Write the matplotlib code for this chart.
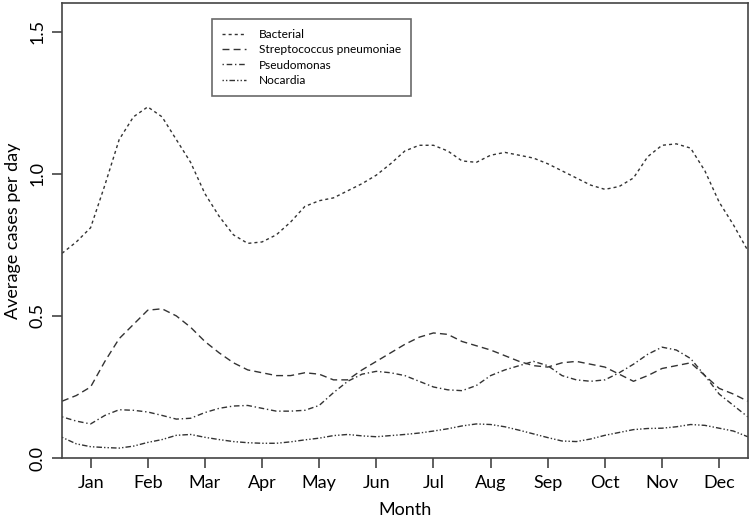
import numpy as np
import matplotlib
matplotlib.use("Agg")
import matplotlib.pyplot as plt

plt.rcParams['font.family'] = ['Lato', 'DejaVu Sans']

# month position (Jan = 1), quarter-month steps
months = np.arange(0.5, 12.51, 0.25)
month_labels = ["Jan", "Feb", "Mar", "Apr", "May", "Jun",
                "Jul", "Aug", "Sep", "Oct", "Nov", "Dec"]

bacterial = [0.72, 0.76, 0.81, 0.96, 1.12, 1.20, 1.235, 1.20, 1.12, 1.04,
             0.93, 0.85, 0.785, 0.755, 0.76, 0.785, 0.83, 0.885, 0.905, 0.915,
             0.94, 0.965, 0.995, 1.035, 1.08, 1.10, 1.10, 1.08, 1.045, 1.04,
             1.065, 1.075, 1.065, 1.055, 1.035, 1.01, 0.985, 0.96, 0.945, 0.955,
             0.985, 1.06, 1.10, 1.105, 1.09, 1.01, 0.90, 0.82, 0.73]

strep = [0.20, 0.22, 0.25, 0.34, 0.42, 0.47, 0.52, 0.525, 0.50, 0.46,
         0.41, 0.37, 0.335, 0.31, 0.30, 0.29, 0.29, 0.30, 0.295, 0.275,
         0.275, 0.31, 0.34, 0.37, 0.40, 0.425, 0.44, 0.435, 0.41, 0.395,
         0.38, 0.36, 0.34, 0.325, 0.32, 0.335, 0.34, 0.33, 0.32, 0.295,
         0.27, 0.29, 0.315, 0.325, 0.335, 0.29, 0.245, 0.225, 0.20]

pseudomonas = [0.145, 0.13, 0.12, 0.15, 0.17, 0.168, 0.162, 0.15, 0.137, 0.14,
               0.16, 0.175, 0.183, 0.185, 0.175, 0.165, 0.165, 0.168, 0.185, 0.23,
               0.27, 0.295, 0.305, 0.30, 0.29, 0.27, 0.25, 0.24, 0.237, 0.255,
               0.29, 0.31, 0.325, 0.34, 0.325, 0.29, 0.275, 0.27, 0.275, 0.30,
               0.33, 0.365, 0.39, 0.38, 0.35, 0.29, 0.225, 0.185, 0.145]

nocardia = [0.073, 0.05, 0.04, 0.037, 0.035, 0.042, 0.055, 0.065, 0.08, 0.083,
            0.073, 0.065, 0.058, 0.054, 0.052, 0.052, 0.057, 0.064, 0.07, 0.079,
            0.083, 0.078, 0.075, 0.079, 0.083, 0.088, 0.095, 0.103, 0.113, 0.12,
            0.118, 0.11, 0.098, 0.085, 0.072, 0.06, 0.058, 0.067, 0.08, 0.09,
            0.10, 0.104, 0.105, 0.11, 0.118, 0.115, 0.105, 0.095, 0.075]

series = [("Bacterial", bacterial, (0, (2.2, 2.2))),
          ("Streptococcus pneumoniae", strep, (0, (5, 3))),
          ("Pseudomonas", pseudomonas, (0, (1, 2, 4, 2))),
          ("Nocardia", nocardia, (0, (1, 1.5, 1, 1.5, 4, 1.5)))]

fig = plt.figure(figsize=(7.5, 5.17), dpi=100)
ax = fig.add_axes([0.0827, 0.114, 0.9143, 0.88])

for name, vals, ls in series:
    ax.plot(months, vals, color="#333333", lw=1.0, linestyle=ls, label=name)

ax.set_xlim(0.5, 12.5)
ax.set_ylim(0, 1.6)
ax.set_xticks(range(1, 13))
ax.set_xticklabels(month_labels)
ax.set_yticks([0.0, 0.5, 1.0, 1.5])
ax.set_yticklabels(["0.0", "0.5", "1.0", "1.5"], rotation=90, va="center")
ax.tick_params(axis="both", length=7, width=1.2, color="#444444",
               labelsize=13, pad=5)
for s in ax.spines.values():
    s.set_color("#444444")
    s.set_linewidth(1.2)

ax.set_xlabel("Month", fontsize=13, labelpad=8)
ax.set_ylabel("Average cases per day", fontsize=13, labelpad=6)

leg = ax.legend(loc="upper left", bbox_to_anchor=(0.2187, 0.965), fontsize=8.6,
                frameon=True, fancybox=False, handlelength=2.0,
                labelspacing=0.35, borderpad=0.85, handletextpad=1.1,
                borderaxespad=0)
leg.get_frame().set_edgecolor("#444444")
leg.get_frame().set_linewidth(1.2)

fig.savefig("out.png", dpi=100)
